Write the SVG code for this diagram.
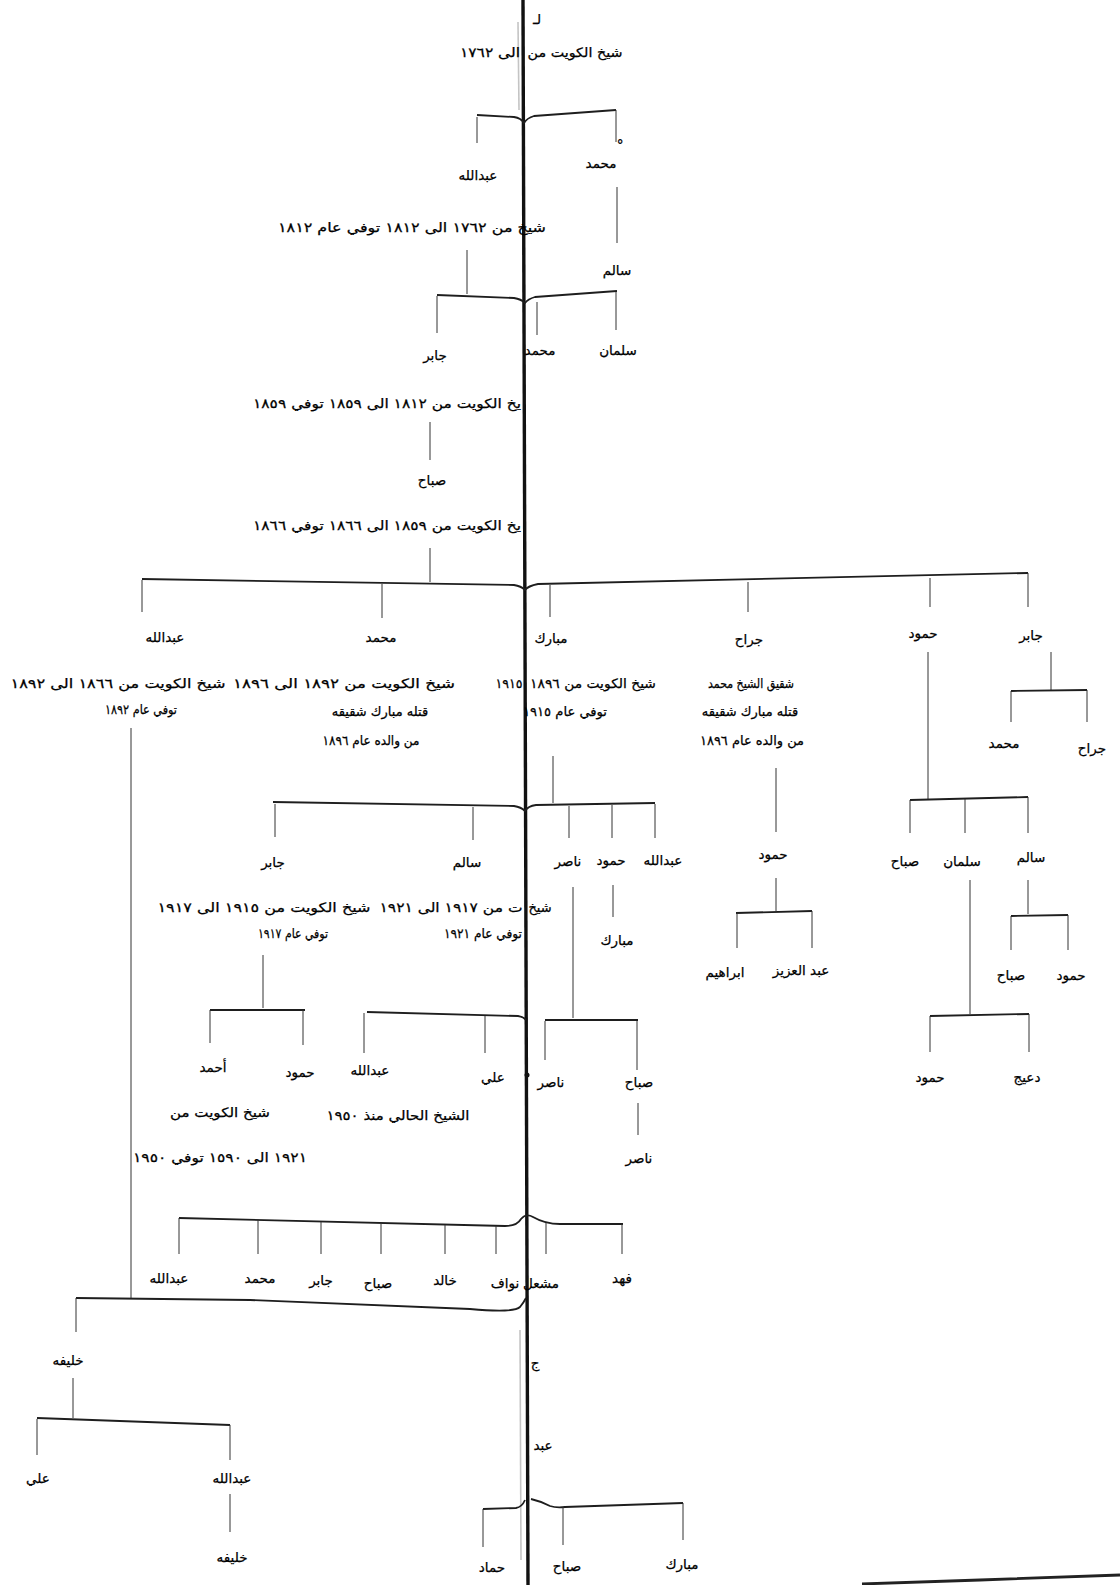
<svg xmlns="http://www.w3.org/2000/svg" width="1120" height="1585" viewBox="0 0 1120 1585">
<style>
  text { font-family: "DejaVu Sans", sans-serif; font-size: 13.5px; fill: #000; stroke: #000; stroke-width: 0.25; text-anchor: middle; direction: rtl; unicode-bidi: embed; }
  .s { font-size: 13px; }
  .ln { fill: none; stroke: #333; stroke-width: 1; }
  .br { fill: none; stroke: #1e1e1e; stroke-width: 1.8; }
  .trunk { fill: none; stroke: #111; stroke-width: 3.4; }
  .mark { fill: none; stroke: #c4c4c4; stroke-width: 1.6; }
</style>
<rect width="1120" height="1585" fill="#ffffff"/>

<g id="scan-marks">
  <path class="mark" d="M518,22 L519,110"/>
  <path class="mark" d="M520,1330 L521,1560"/>
  <path d="M862,1584 L980,1580 L1120,1575" fill="none" stroke="#222" stroke-width="2.8"/>
</g>

<g id="connectors">
  <path class="trunk" d="M523,0 L528,1585"/>
  <circle cx="527" cy="1075" r="2.5" fill="#111"/>
  <!-- top -->
  <path class="br" d="M477,115 L514,117 Q521,118 524,123 Q527,118 534,116 L616,110"/>
  <path class="ln" d="M477,117 V143 M616,110 V142 M617,187 V243 M467,250 V294"/>
  <path class="br" d="M437,295 L514,298 Q521,299 525,303 Q528,299 535,297 L617,291"/>
  <path class="ln" d="M437,296 V333 M537,302 V335 M616,292 V330 M430,422 V460 M430,548 V582"/>
  <!-- sons of Sabah II -->
  <path class="br" d="M142,579 L514,585 Q521,586 525,590 Q528,586 538,584 L1028,573"/>
  <path class="ln" d="M142,580 V612 M382,584 V618 M550,585 V617 M748,582 V612 M930,578 V607 M1028,573 V607"/>
  <path class="ln" d="M131,728 V1298"/>
  <!-- Mubarak's sons -->
  <path class="ln" d="M553,756 V803"/>
  <path class="br" d="M273,802 L514,806 Q521,807 525,811 Q528,806 536,805 L655,803"/>
  <path class="ln" d="M275,804 V837 M473,807 V840 M569,806 V838 M612,805 V838 M655,804 V838"/>
  <!-- Jarrah -->
  <path class="ln" d="M776,768 V832 M776,878 V911"/>
  <path class="br" d="M736,913 L812,911"/>
  <path class="ln" d="M737,913 V948 M812,911 V948"/>
  <!-- Hamoud -->
  <path class="ln" d="M928,652 V799"/>
  <path class="br" d="M910,800 L1028,797"/>
  <path class="ln" d="M910,800 V833 M965,799 V833 M1028,797 V833"/>
  <path class="ln" d="M1028,880 V914"/>
  <path class="br" d="M1011,916 L1068,915"/>
  <path class="ln" d="M1011,916 V950 M1068,915 V950"/>
  <path class="ln" d="M970,880 V1014"/>
  <path class="br" d="M930,1016 L1029,1014"/>
  <path class="ln" d="M930,1016 V1052 M1029,1014 V1052"/>
  <!-- Jaber (son of Sabah II) -->
  <path class="ln" d="M1051,652 V690"/>
  <path class="br" d="M1011,691 L1087,690"/>
  <path class="ln" d="M1011,691 V722 M1087,690 V722"/>
  <!-- Jaber III -->
  <path class="ln" d="M263,955 V1008"/>
  <path class="br" d="M210,1010 L305,1010"/>
  <path class="ln" d="M210,1010 V1043 M303,1010 V1045"/>
  <!-- Salem II -->
  <path class="br" d="M367,1012 L518,1016 Q524,1017 526,1020"/>
  <path class="ln" d="M364,1013 V1053 M485,1016 V1053"/>
  <!-- Nasser, Hamoud -->
  <path class="ln" d="M573,887 V1018"/>
  <path class="br" d="M545,1020 L638,1020"/>
  <path class="ln" d="M545,1021 V1060 M637,1021 V1070 M638,1103 V1135 M613,885 V917"/>
  <!-- Ahmad's sons -->
  <path class="br" d="M179,1218 L505,1226 Q517,1226 521,1219 Q526,1213 533,1217 Q545,1224 560,1224 L623,1224"/>
  <path class="ln" d="M179,1218 V1254 M258,1220 V1254 M321,1222 V1254 M381,1223 V1254 M445,1225 V1254 M496,1226 V1254 M546,1223 V1254 M622,1224 V1254"/>
  <!-- Abdullah II descendants -->
  <path class="br" d="M76,1298 L250,1300 L470,1309 Q514,1313 520,1307 Q524,1302 526,1298"/>
  <path class="ln" d="M76,1298 V1332 M73,1378 V1418"/>
  <path class="br" d="M37,1418 L230,1425"/>
  <path class="ln" d="M37,1419 V1455 M230,1425 V1460 M230,1494 V1532"/>
  <!-- bottom centre -->
  <path class="br" d="M483,1509 L516,1508 Q522,1507 525,1500 M531,1499 Q540,1501 550,1506 Q556,1508 565,1507 L683,1503"/>
  <path class="ln" d="M483,1509 V1547 M563,1507 V1545 M683,1503 V1540"/>
</g>

<g id="n-sabah1">
  <text x="537" y="24">لـ</text>
  <text class="s" x="575" y="57" textLength="95" lengthAdjust="spacingAndGlyphs">شيخ الكويت من</text>
  <text class="s" x="490" y="57" textLength="60" lengthAdjust="spacingAndGlyphs">الى ١٧٦٢</text>
</g>
<g id="n-abdullah1"><text x="478" y="180">عبدالله</text><text class="s" x="412" y="232" textLength="268" lengthAdjust="spacingAndGlyphs">شيخ من ١٧٦٢ الى ١٨١٢ توفي عام ١٨١٢</text></g>
<g id="n-muhammad1"><text x="601" y="168">محمد</text><text x="620" y="150">°</text></g>
<g id="n-salem1"><text x="617" y="275">سالم</text></g>
<g id="n-jaber1"><text x="435" y="360">جابر</text><text class="s" x="387" y="408" textLength="268" lengthAdjust="spacingAndGlyphs">يخ الكويت من ١٨١٢ الى ١٨٥٩ توفي ١٨٥٩</text></g>
<g id="n-muhammad-s"><text x="540" y="355">محمد</text></g>
<g id="n-salman-s"><text x="618" y="355">سلمان</text></g>
<g id="n-sabah2"><text x="432" y="485">صباح</text><text class="s" x="387" y="530" textLength="268" lengthAdjust="spacingAndGlyphs">يخ الكويت من ١٨٥٩ الى ١٨٦٦ توفي ١٨٦٦</text></g>

<g id="n-abdullah2"><text x="165" y="642">عبدالله</text><text class="s" x="118" y="688" textLength="215" lengthAdjust="spacingAndGlyphs">شيخ الكويت من ١٨٦٦ الى ١٨٩٢</text><text class="s" x="141" y="714" textLength="72" lengthAdjust="spacingAndGlyphs">توفي عام ١٨٩٢</text></g>
<g id="n-muhammad2"><text x="381" y="642">محمد</text><text class="s" x="344" y="688" textLength="222" lengthAdjust="spacingAndGlyphs">شيخ الكويت من ١٨٩٢ الى ١٨٩٦</text><text class="s" x="380" y="716">قتله مبارك شقيقه</text><text class="s" x="371" y="745" textLength="97" lengthAdjust="spacingAndGlyphs">من والده عام ١٨٩٦</text></g>
<g id="n-mubarak"><text x="551" y="643">مبارك</text><text class="s" x="593" y="688" textLength="126" lengthAdjust="spacingAndGlyphs">شيخ الكويت من ١٨٩٦</text><text class="s" x="509" y="688" textLength="27" lengthAdjust="spacingAndGlyphs">١٩١٥</text><text class="s" x="565" y="716" textLength="84" lengthAdjust="spacingAndGlyphs">توفي عام ١٩١٥</text></g>
<g id="n-jarrah"><text x="749" y="644">جراح</text><text class="s" x="751" y="688" textLength="86" lengthAdjust="spacingAndGlyphs">شقيق الشيخ محمد</text><text class="s" x="750" y="716">قتله مبارك شقيقه</text><text class="s" x="752" y="745" textLength="104" lengthAdjust="spacingAndGlyphs">من والده عام ١٨٩٦</text></g>
<g id="n-hamoud"><text x="923" y="638">حمود</text></g>
<g id="n-jaber"><text x="1031" y="640">جابر</text></g>
<g id="n-jaber-muhammad"><text x="1004" y="748">محمد</text></g>
<g id="n-jaber-jarrah"><text x="1092" y="753">جراح</text></g>

<g id="n-jarrah-hamoud"><text x="773" y="859">حمود</text></g>
<g id="n-ibrahim"><text x="725" y="977">ابراهيم</text></g>
<g id="n-abdulaziz"><text x="801" y="975">عبد العزيز</text></g>
<g id="n-hamoud-sabah"><text x="905" y="866">صباح</text></g>
<g id="n-hamoud-salman"><text x="962" y="866">سلمان</text></g>
<g id="n-hamoud-salem"><text x="1031" y="862">سالم</text></g>
<g id="n-salem-sabah"><text x="1011" y="980">صباح</text></g>
<g id="n-salem-hamoud"><text x="1071" y="980">حمود</text></g>
<g id="n-salman-hamoud"><text x="930" y="1082">حمود</text></g>
<g id="n-salman-duaij"><text x="1027" y="1082">دعيج</text></g>

<g id="n-jaber3"><text x="273" y="867">جابر</text><text class="s" x="264" y="912" textLength="213" lengthAdjust="spacingAndGlyphs">شيخ الكويت من ١٩١٥ الى ١٩١٧</text><text class="s" x="293" y="938" textLength="70" lengthAdjust="spacingAndGlyphs">توفي عام ١٩١٧</text></g>
<g id="n-salem2"><text x="467" y="867">سالم</text><text class="s" x="540" y="912">شيخ</text><text class="s" x="451" y="912" textLength="143" lengthAdjust="spacingAndGlyphs">ت من ١٩١٧ الى ١٩٢١</text><text class="s" x="483" y="938" textLength="78" lengthAdjust="spacingAndGlyphs">توفي عام ١٩٢١</text></g>
<g id="n-nasser"><text x="568" y="866">ناصر</text></g>
<g id="n-mubarak-hamoud"><text x="611" y="865">حمود</text></g>
<g id="n-mubarak-abdullah"><text x="663" y="865">عبدالله</text></g>
<g id="n-hamoud-mubarak"><text x="617" y="945">مبارك</text></g>
<g id="n-nasser-nasser"><text x="551" y="1087">ناصر</text></g>
<g id="n-nasser-sabah"><text x="639" y="1087">صباح</text></g>
<g id="n-sabah-nasser"><text x="639" y="1163">ناصر</text></g>

<g id="n-ahmad"><text x="213" y="1072">أحمد</text><text class="s" x="220" y="1117" textLength="100" lengthAdjust="spacingAndGlyphs">شيخ الكويت من</text><text class="s" x="220" y="1162" textLength="174" lengthAdjust="spacingAndGlyphs">١٩٢١ الى ١٥٩٠ توفي ١٩٥٠</text></g>
<g id="n-jaber3-hamoud"><text x="300" y="1077">حمود</text></g>
<g id="n-abdullah3"><text x="370" y="1075">عبدالله</text><text class="s" x="398" y="1120" textLength="143" lengthAdjust="spacingAndGlyphs">الشيخ الحالي منذ ١٩٥٠</text></g>
<g id="n-salem2-ali"><text x="493" y="1082">علي</text></g>

<g id="n-ahmad-abdullah"><text x="169" y="1283">عبدالله</text></g>
<g id="n-ahmad-muhammad"><text x="260" y="1283">محمد</text></g>
<g id="n-ahmad-jaber"><text x="321" y="1285">جابر</text></g>
<g id="n-ahmad-sabah"><text x="378" y="1288">صباح</text></g>
<g id="n-ahmad-khalid"><text x="445" y="1285">خالد</text></g>
<g id="n-ahmad-nawaf"><text x="505" y="1288">نواف</text></g>
<g id="n-ahmad-mishal"><text x="541" y="1288">مشعل</text></g>
<g id="n-ahmad-fahd"><text x="622" y="1283">فهد</text></g>

<g id="n-khalifa"><text x="68" y="1365">خليفه</text></g>
<g id="n-khalifa-ali"><text x="38" y="1483">علي</text></g>
<g id="n-khalifa-abdullah"><text x="232" y="1483">عبدالله</text></g>
<g id="n-abdullah-khalifa"><text x="232" y="1562">خليفه</text></g>

<g id="n-centre-j"><text x="535" y="1368">ج</text></g>
<g id="n-centre-abd"><text x="543" y="1450">عبد</text></g>
<g id="n-bottom-hammad"><text x="492" y="1572">حماد</text></g>
<g id="n-bottom-sabah"><text x="567" y="1571">صباح</text></g>
<g id="n-bottom-mubarak"><text x="682" y="1569">مبارك</text></g>
</svg>
